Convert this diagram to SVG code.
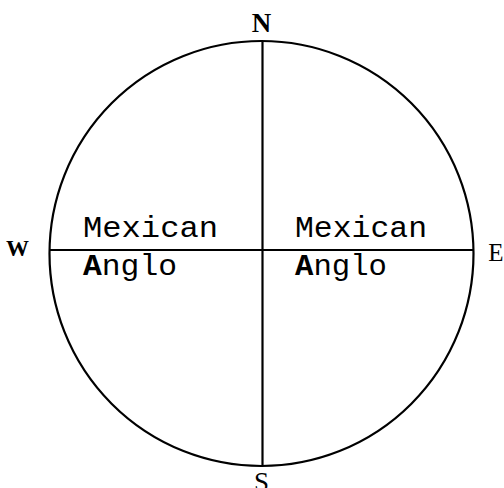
<svg xmlns="http://www.w3.org/2000/svg" width="504" height="488" viewBox="0 0 504 488">
<style>
.ln{stroke:#000;stroke-width:2.2;fill:none}
.t{font-family:"Liberation Mono","Courier New",monospace;font-size:29px;fill:#000}
.d{font-family:"Liberation Serif","Times New Roman",serif;fill:#000}
.b{font-weight:bold}
</style>
<rect width="504" height="488" fill="#fff"/>
<g id="connectors">
<ellipse class="ln" cx="261.5" cy="253.5" rx="212" ry="212.5"/>
<line class="ln" x1="262.5" y1="41" x2="262.5" y2="466"/>
<line class="ln" x1="50" y1="250" x2="473" y2="250"/>
</g>
<g id="dirN"><text class="d b" x="261.5" y="32" text-anchor="middle" font-size="27">N</text></g>
<g id="dirS"><text class="d" x="261.5" y="491" text-anchor="middle" font-size="27">S</text></g>
<g id="dirW"><text class="d b" x="17.5" y="255.5" text-anchor="middle" font-size="23">W</text></g>
<g id="dirE"><text class="d" x="496" y="261" text-anchor="middle" font-size="25">E</text></g>
<g id="nw"><text class="t" x="83" y="237" textLength="135" lengthAdjust="spacingAndGlyphs">Mexican</text></g>
<g id="sw"><text class="t" x="83" y="275" textLength="94" lengthAdjust="spacingAndGlyphs"><tspan class="b">A</tspan>nglo</text></g>
<g id="ne"><text class="t" x="295" y="237" textLength="132" lengthAdjust="spacingAndGlyphs">Mexican</text></g>
<g id="se"><text class="t" x="295" y="275" textLength="92" lengthAdjust="spacingAndGlyphs"><tspan class="b">A</tspan>nglo</text></g>
</svg>
